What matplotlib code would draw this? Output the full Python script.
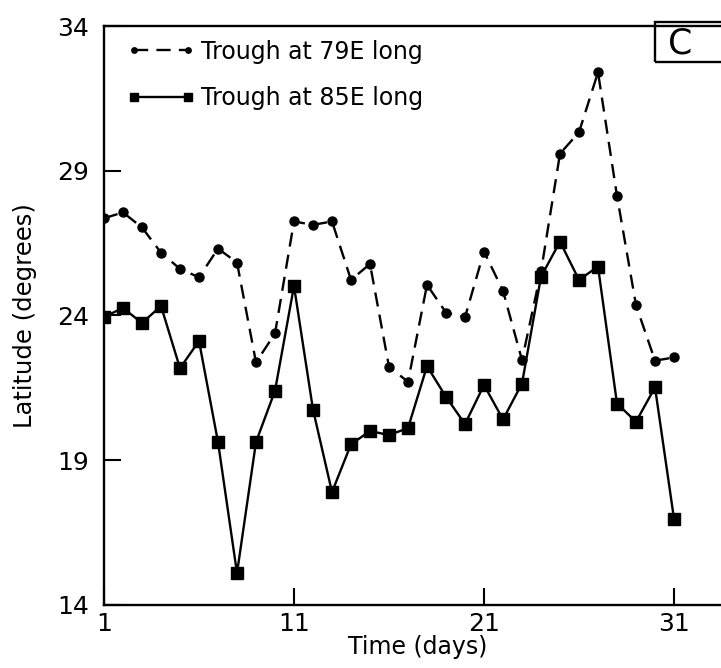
import matplotlib
matplotlib.use("Agg")
import matplotlib.pyplot as plt
from matplotlib.patches import Rectangle

days = list(range(1, 32))
trough_79E = [27.36, 27.56, 27.04, 26.17, 25.61, 25.32, 26.31, 25.83, 22.38, 23.38,
              27.25, 27.13, 27.25, 25.23, 25.78, 22.23, 21.71, 25.06, 24.10, 23.94,
              26.21, 24.85, 22.46, 25.52, 29.59, 30.33, 32.40, 28.13, 24.36, 22.44,
              22.55]
trough_85E = [23.95, 24.26, 23.74, 24.33, 22.18, 23.12, 19.63, 15.10, 19.63, 21.40,
              25.02, 20.75, 17.90, 19.55, 20.01, 19.87, 20.11, 22.25, 21.19, 20.25,
              21.60, 20.41, 21.65, 25.34, 26.55, 25.23, 25.69, 20.96, 20.33, 21.52,
              16.98]
x_ticks = [1, 11, 21, 31]
y_ticks = [14, 19, 24, 29, 34]
label_79 = "Trough at 79E long"
label_85 = "Trough at 85E long"

plt.rcParams['font.family'] = ['DejaVu Sans']

fig = plt.figure(figsize=(7.21, 6.68), dpi=100)
ax = fig.add_axes([104/721, 63/668, 627/721, (605-26)/668])

ax.plot(days, trough_79E, color='black', linestyle=(0, (6, 3.5)), linewidth=1.7,
        marker='o', markersize=6.5, label=label_79)
ax.plot(days, trough_85E, color='black', linestyle='-', linewidth=1.7,
        marker='s', markersize=9, label=label_85)

ax.set_xlim(1, 34)
ax.set_ylim(14, 34)
ax.set_xticks(x_ticks)
ax.set_yticks(y_ticks)
ax.tick_params(direction='in', length=12, width=1.5, labelsize=18, pad=11)
ax.tick_params(axis='x', pad=5)
for s in ax.spines.values():
    s.set_linewidth(1.7)

ax.set_xlabel("Time (days)", fontsize=17, labelpad=-1)
ax.set_ylabel("Latitude (degrees)", fontsize=17.5, labelpad=14)

ax.legend(loc='upper left', frameon=False, numpoints=2, handlelength=2.9,
          fontsize=17, handletextpad=0.25, labelspacing=0.95, markerscale=0.6,
          bbox_to_anchor=(0.01, 1.005), borderaxespad=0.3)

fig.patches.append(Rectangle((655/721, 1-62/668), 0.2, 40/668, transform=fig.transFigure,
                             fill=False, edgecolor='black', linewidth=1.7))
fig.text(680/721, 1-44/668, "C", fontsize=25, ha='center', va='center')

fig.savefig("out.png", dpi=100)
